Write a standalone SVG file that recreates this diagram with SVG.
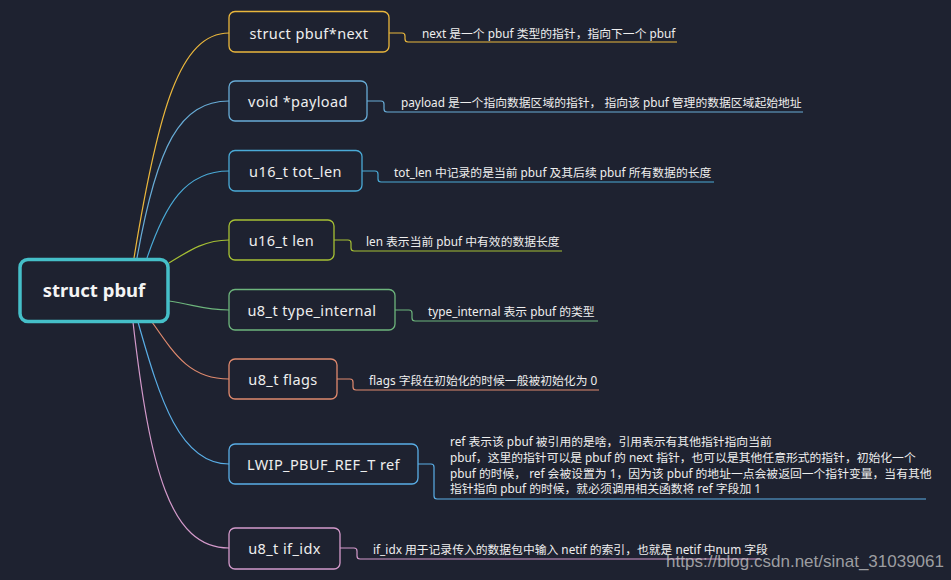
<svg xmlns="http://www.w3.org/2000/svg" width="951" height="580" viewBox="0 0 951 580">
<style>
.bg{fill:#1e2230}
.node{fill:#1e2230;stroke-width:1.3}
.lbl{font-family:"Noto Sans","Noto Sans CJK SC",sans-serif;font-size:14.5px;fill:#eeeeee;text-anchor:middle;letter-spacing:0.4px}
.desc{font-family:"Noto Sans","Noto Sans CJK SC",sans-serif;font-size:11.8px;fill:#eeeeee}
.c{fill:none;stroke-width:1.2}
</style>
<rect class="bg" x="0" y="0" width="951" height="580"/>
<g id="connectors">
<path class="c" stroke="#eab73c" d="M134,258 C158,110 180,33 229,33"/>
<path class="c" stroke="#68acd6" d="M137,258 C157,145 180,101 229,101"/>
<path class="c" stroke="#4aaad6" d="M147,258 C165,205 185,171 229,171"/>
<path class="c" stroke="#a6c034" d="M169,263 C190,250 205,240 229,240"/>
<path class="c" stroke="#6db57c" d="M169,301 C195,305 205,310 229,310"/>
<path class="c" stroke="#e08a6e" d="M152,322 C175,355 190,379 229,379"/>
<path class="c" stroke="#5aaee6" d="M138,322 C160,400 180,464 229,464"/>
<path class="c" stroke="#d49acb" d="M133,322 C150,470 170,548 229,548"/>
<path class="c" stroke="#eab73c" d="M389,33 H402 Q405,33 405,36 V39 Q405,42 408,42 H677"/>
<path class="c" stroke="#68acd6" d="M367,101 H381 Q384,101 384,104 V109 Q384,112 387,112 H803"/>
<path class="c" stroke="#4aaad6" d="M362,171 H375 Q378,171 378,174 V179 Q378,182 381,182 H714"/>
<path class="c" stroke="#a6c034" d="M334,240 H348 Q351,240 351,243 V248 Q351,251 354,251 H562"/>
<path class="c" stroke="#6db57c" d="M395,310 H409 Q412,310 412,313 V318 Q412,321 415,321 H598"/>
<path class="c" stroke="#e08a6e" d="M337,379 H350 Q353,379 353,382 V387 Q353,390 356,390 H599"/>
<path class="c" stroke="#5aaee6" d="M418,464 H431 Q434,464 434,467 V496 Q434,499 437,499 H926"/>
<path class="c" stroke="#d49acb" d="M340,548 H354 Q357,548 357,551 V556 Q357,559 360,559 H760"/>
</g>
<g id="root">
<rect x="20" y="259.5" width="148" height="62" rx="8" fill="#1e2230" stroke="#45bfc8" stroke-width="3.5"/>
<text x="94" y="297" font-family="'Noto Sans','Noto Sans CJK SC',sans-serif" font-size="18.5" font-weight="bold" fill="#f4f4f4" text-anchor="middle">struct pbuf</text>
</g>
<g id="n-next">
<rect class="node" x="229" y="11.5" width="160" height="40.5" rx="6" stroke="#eab73c"/>
<text class="lbl" x="309" y="38.5">struct pbuf*next</text>
<text class="desc" x="422" y="38">next 是一个 pbuf 类型的指针，指向下一个 pbuf</text>
</g>
<g id="n-payload">
<rect class="node" x="229" y="81" width="138" height="40" rx="6" stroke="#68acd6"/>
<text class="lbl" x="298" y="106.5">void *payload</text>
<text class="desc" x="401" y="107">payload 是一个指向数据区域的指针， 指向该 pbuf 管理的数据区域起始地址</text>
</g>
<g id="n-totlen">
<rect class="node" x="229" y="150.5" width="133" height="40.5" rx="6" stroke="#4aaad6"/>
<text class="lbl" x="295.5" y="176.5">u16_t tot_len</text>
<text class="desc" x="394" y="177">tot_len 中记录的是当前 pbuf 及其后续 pbuf 所有数据的长度</text>
</g>
<g id="n-len">
<rect class="node" x="229" y="220" width="105" height="40" rx="6" stroke="#a6c034"/>
<text class="lbl" x="281.5" y="245.5">u16_t len</text>
<text class="desc" x="366" y="246">len 表示当前 pbuf 中有效的数据长度</text>
</g>
<g id="n-type">
<rect class="node" x="229" y="289.5" width="166" height="40.5" rx="6" stroke="#6db57c"/>
<text class="lbl" x="312" y="315.5">u8_t type_internal</text>
<text class="desc" x="428" y="316">type_internal 表示 pbuf 的类型</text>
</g>
<g id="n-flags">
<rect class="node" x="229" y="359" width="108" height="40" rx="6" stroke="#e08a6e"/>
<text class="lbl" x="283" y="384.5">u8_t flags</text>
<text class="desc" x="369" y="385">flags  字段在初始化的时候一般被初始化为 0</text>
</g>
<g id="n-ref">
<rect class="node" x="229" y="444" width="189" height="40" rx="6" stroke="#5aaee6"/>
<text class="lbl" x="323.5" y="469.5">LWIP_PBUF_REF_T ref</text>
<text class="desc" x="450" y="446">ref 表示该 pbuf 被引用的是啥，引用表示有其他指针指向当前</text>
<text class="desc" x="450" y="462">pbuf，这里的指针可以是 pbuf 的 next 指针，也可以是其他任意形式的指针，初始化一个</text>
<text class="desc" x="450" y="477.5">pbuf 的时候， ref 会被设置为 1，因为该 pbuf 的地址一点会被返回一个指针变量，当有其他</text>
<text class="desc" x="450" y="493">指针指向 pbuf 的时候，就必须调用相关函数将 ref 字段加 1</text>
</g>
<g id="n-ifidx">
<rect class="node" x="229" y="528" width="111" height="41" rx="6" stroke="#d49acb"/>
<text class="lbl" x="284.5" y="553.5">u8_t if_idx</text>
<text class="desc" x="373" y="554">if_idx 用于记录传入的数据包中输入 netif 的索引，也就是 netif 中num 字段</text>
</g>
<text x="944" y="567" font-family="'Liberation Sans',Arial,sans-serif" font-size="17" fill="#c8c8c8" fill-opacity="0.75" text-anchor="end">https://blog.csdn.net/sinat_31039061</text>
</svg>
